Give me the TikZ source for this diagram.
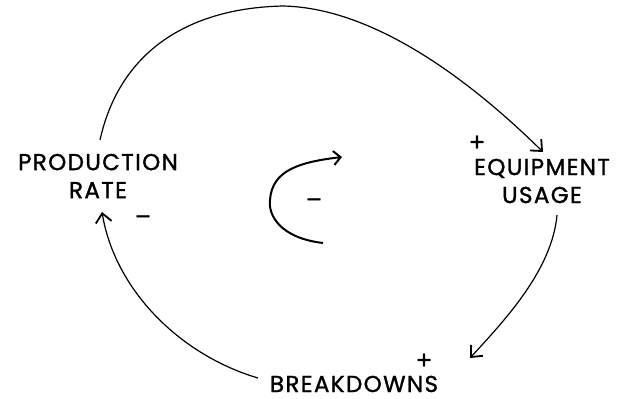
\documentclass[tikz,border=0pt]{standalone}
\usepackage{fontspec}
\setmainfont{Poppins}[LetterSpace=6, FakeBold=1.3]
\newfontfamily\signfont{DejaVu Sans}[FakeBold=2]
\usetikzlibrary{arrows.meta}
\tikzset{
  label/.style={font=\fontsize{23}{28}\selectfont, align=center, inner sep=0pt},
  sign/.style={font=\signfont\fontsize{20}{20}\selectfont, inner sep=0pt},
  link/.style={line width=1.2pt, -{Straight Barb[length=9pt,width=16pt,line width=1.8pt]}},
  loopline/.style={line width=2pt, -{Straight Barb[length=7pt,width=14pt,line width=2pt]}}
}
\begin{document}
\begin{tikzpicture}[x=1pt,y=-1pt]
\useasboundingbox (0,0) rectangle (624,399);
\node[label] (pr) at (98,176) {PRODUCTION\\RATE};
\node[label] (eu) at (542,181) {EQUIPMENT\\USAGE};
\node[label, anchor=base] (bd) at (354,392) {BREAKDOWNS};
\node[sign] (p1) at (477,142) {+};
\node[sign] (p2) at (424,360) {+};
\node[sign] (m1) at (143,219) {−};
\node[sign] (m2) at (314,202) {−};
\coordinate (a1) at (100,140);
\coordinate (a1e) at (543,152);
\coordinate (a2) at (557,215);
\coordinate (a2e) at (470,358);
\coordinate (a3) at (258,378);
\coordinate (a3e) at (102,212);
\coordinate (c1) at (323,243);
\coordinate (c1e) at (342,157);
\draw[link] (a1) .. controls (120,50) and (190,8) .. (283,6) .. controls (380,8) and (480,90) .. (a1e);
\draw[link] (a2) .. controls (552,270) and (505,320) .. (a2e);
\draw[link] (a3) .. controls (180,355) and (115,290) .. (a3e);
\draw[loopline] (c1) .. controls (280,238) and (268,215) .. (270,200) .. controls (272,170) and (300,162) .. (c1e);
\end{tikzpicture}
\end{document}
